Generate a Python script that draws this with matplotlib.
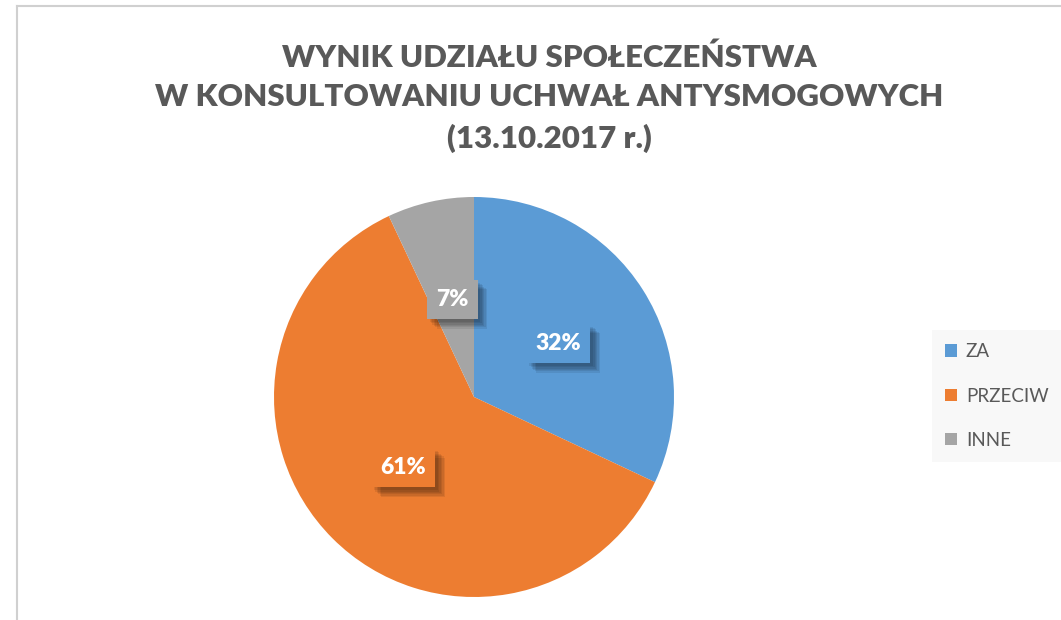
import matplotlib.pyplot as plt
import matplotlib.patheffects as pe
from matplotlib.lines import Line2D
from matplotlib.patches import Patch

# Data
labels = ["ZA", "PRZECIW", "INNE"]
values = [32, 61, 7]
colors = ["#5B9BD5", "#ED7D31", "#A5A5A5"]
title = "WYNIK UDZIAŁU SPOŁECZEŃSTWA\nW KONSULTOWANIU UCHWAŁ ANTYSMOGOWYCH\n(13.10.2017 r.)"

plt.rcParams['font.family'] = ['Lato', 'DejaVu Sans']

fig = plt.figure(figsize=(10.61, 6.2), dpi=100)

# chart border (only top and left visible)
fig.add_artist(Line2D([17/1061, 17/1061], [0, 1 - 6/620], transform=fig.transFigure,
                      color="#D0D0D0", lw=1.5))
fig.add_artist(Line2D([17/1061, 1], [1 - 6/620, 1 - 6/620], transform=fig.transFigure,
                      color="#D0D0D0", lw=1.5))

fig.text(0.518, 1 - 98/620, title, ha="center", va="center", fontsize=22.5,
         fontweight="heavy", color="#595959", linespacing=1.5)

ax = fig.add_axes([274/1061, 23/620, 400/1061, 400/620])
wedges, texts, autotexts = ax.pie(values, colors=colors, startangle=90, counterclock=False,
                                  autopct="%d%%", pctdistance=0.5,
                                  wedgeprops=dict(linewidth=0))
ax.set_xlim(-1, 1)
ax.set_ylim(-1, 1)
ax.set_aspect("equal")

# soft shadow for the data label boxes
shadow = [pe.SimplePatchShadow(offset=(o, -o), shadow_rgbFace="black", alpha=0.08)
          for o in (7, 6, 5, 4, 3, 2)]
for t, c in zip(autotexts, colors):
    t.set_color("white")
    t.set_fontsize(16.5)
    t.set_fontweight("heavy")
    t.set_bbox(dict(facecolor=c, edgecolor="none", boxstyle="square,pad=0.4"))
    t.get_bbox_patch().set_path_effects(shadow + [pe.Normal()])

handles = [Patch(facecolor=c, edgecolor="none") for c in colors]
leg = fig.legend(handles, labels, loc="center left", bbox_to_anchor=(932/1061, 1 - 396/620),
                 frameon=True, fontsize=13.5, labelspacing=1.45, handlelength=0.65,
                 handleheight=0.65, handletextpad=0.45, borderpad=0.7, borderaxespad=0,
                 fancybox=False)
leg.get_frame().set_facecolor("#F7F7F7")
leg.get_frame().set_edgecolor("none")
for t in leg.get_texts():
    t.set_color("#595959")

fig.savefig("out.png", dpi=100)
